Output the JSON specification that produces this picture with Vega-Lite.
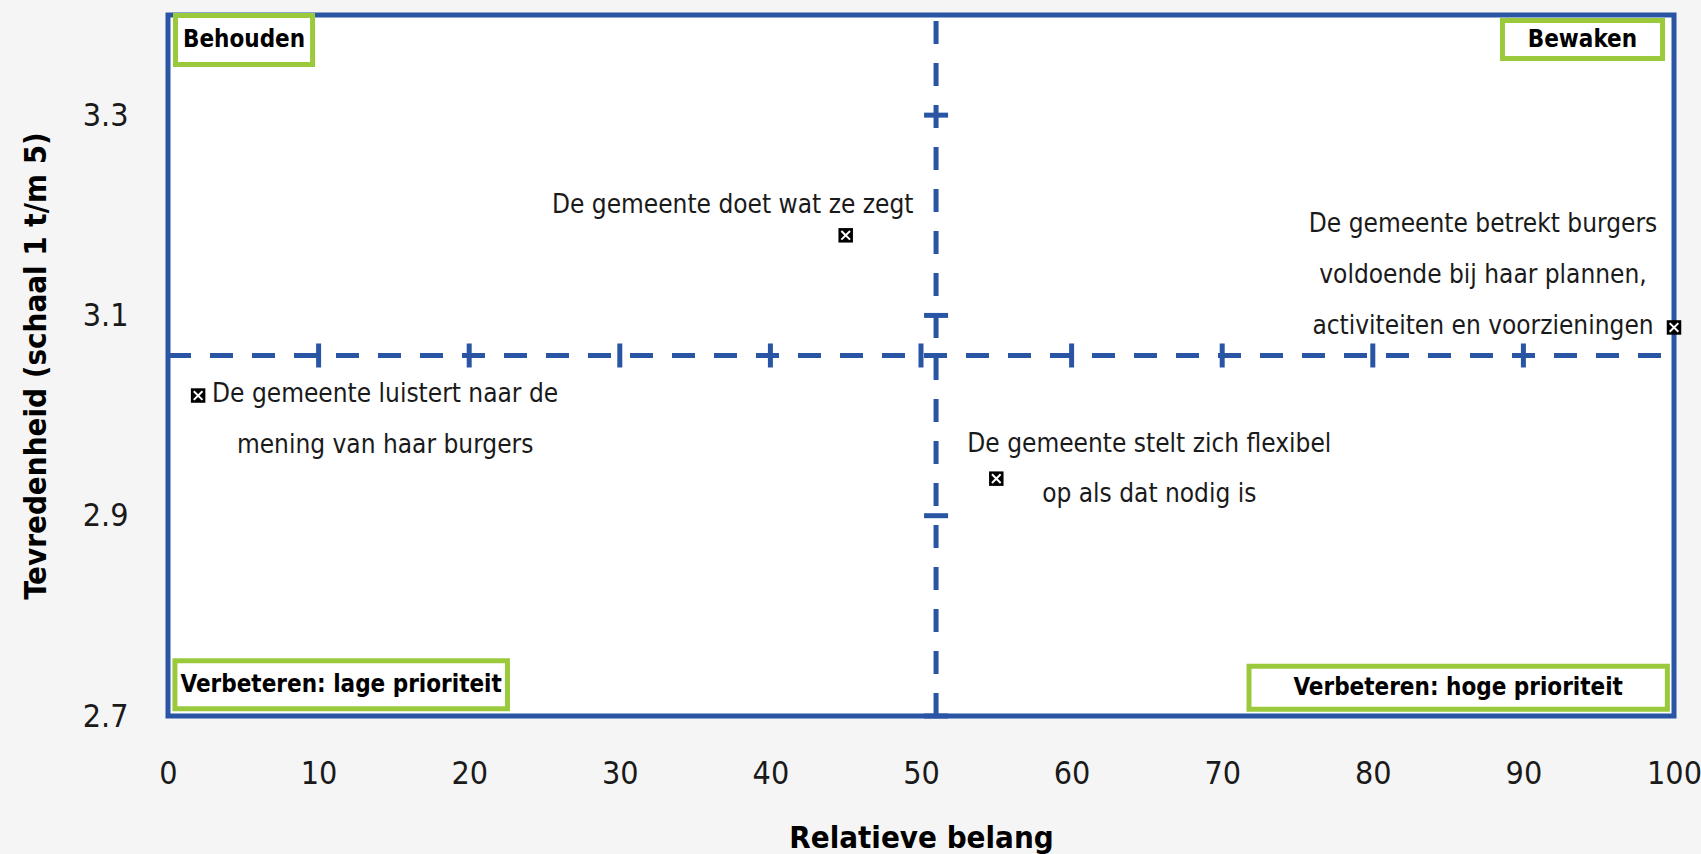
{
  "$schema": "https://vega.github.io/schema/vega-lite/v6.json",
  "width": 1506,
  "height": 701,
  "autosize": {"type": "none"},
  "padding": {"left": 168, "top": 15, "right": 27, "bottom": 138},
  "background": "#f5f5f5",
  "config": {
    "view": {"fill": "white", "stroke": "#2A54A4", "strokeWidth": 5},
    "font": "Liberation Sans Narrow, DejaVu Sans Condensed, Open Sans"
  },
  "datasets": {
    "points": [
      {"id": 1, "belang": 45, "tevredenheid": 3.18, "stelling": "De gemeente doet wat ze zegt"},
      {"id": 2, "belang": 100, "tevredenheid": 3.088, "stelling": "De gemeente betrekt burgers\nvoldoende bij haar plannen,\nactiviteiten en voorzieningen"},
      {"id": 3, "belang": 2, "tevredenheid": 3.02, "stelling": "De gemeente luistert naar de\nmening van haar burgers"},
      {"id": 4, "belang": 55, "tevredenheid": 2.937, "stelling": "De gemeente stelt zich flexibel\nop als dat nodig is"}
    ],
    "hline": [{"belang": 0, "belang2": 100, "tevredenheid": 3.06}],
    "vline": [{"belang": 51, "tevredenheid": 2.7, "tevredenheid2": 3.4}],
    "xticks": [
      {"belang": 10, "tevredenheid": 3.06}, {"belang": 20, "tevredenheid": 3.06},
      {"belang": 30, "tevredenheid": 3.06}, {"belang": 40, "tevredenheid": 3.06},
      {"belang": 50, "tevredenheid": 3.06}, {"belang": 60, "tevredenheid": 3.06},
      {"belang": 70, "tevredenheid": 3.06}, {"belang": 80, "tevredenheid": 3.06},
      {"belang": 90, "tevredenheid": 3.06}
    ],
    "yticks": [
      {"belang": 51, "tevredenheid": 2.7}, {"belang": 51, "tevredenheid": 2.9},
      {"belang": 51, "tevredenheid": 3.1}, {"belang": 51, "tevredenheid": 3.3}
    ],
    "boxes": [
      {"kwadrant": "Behouden", "belang": 0.5, "belang2": 9.6, "tevredenheid": 3.3995, "tevredenheid2": 3.3506},
      {"kwadrant": "Bewaken", "belang": 88.61, "belang2": 99.24, "tevredenheid": 3.3945, "tevredenheid2": 3.3566},
      {"kwadrant": "Verbeteren: lage prioriteit", "belang": 0.46, "belang2": 22.54, "tevredenheid": 2.7551, "tevredenheid2": 2.7072},
      {"kwadrant": "Verbeteren: hoge prioriteit", "belang": 71.78, "belang2": 99.56, "tevredenheid": 2.7496, "tevredenheid2": 2.7067}
    ],
    "boxlabels": [
      {"kwadrant": "Behouden", "belang": 5.05, "tevredenheid": 3.375},
      {"kwadrant": "Bewaken", "belang": 93.92, "tevredenheid": 3.3755},
      {"kwadrant": "Verbeteren: lage prioriteit", "belang": 11.5, "tevredenheid": 2.731},
      {"kwadrant": "Verbeteren: hoge prioriteit", "belang": 85.67, "tevredenheid": 2.728}
    ]
  },
  "encoding": {
    "x": {
      "field": "belang", "type": "quantitative", "title": "Relatieve belang",
      "scale": {"domain": [0, 100], "nice": false, "zero": false},
      "axis": {
        "values": [0, 10, 20, 30, 40, 50, 60, 70, 80, 90, 100],
        "domain": false, "ticks": false, "tickSize": 0, "grid": false,
        "labelFontSize": 32, "labelColor": "#1a1a1a", "labelPadding": 42,
        "labelFlush": false, "labelOverlap": false,
        "titleFontSize": 31, "titleFontWeight": "bold", "titleColor": "#000000", "titlePadding": 34
      }
    },
    "y": {
      "field": "tevredenheid", "type": "quantitative", "title": "Tevredenheid (schaal 1 t/m 5)",
      "scale": {"domain": [2.7, 3.4], "nice": false, "zero": false},
      "axis": {
        "values": [2.7, 2.9, 3.1, 3.3], "format": ".1f",
        "domain": false, "ticks": false, "tickSize": 0, "grid": false,
        "labelFontSize": 32, "labelColor": "#1a1a1a", "labelPadding": 40,
        "labelOverlap": false,
        "titleFontSize": 31, "titleFontWeight": "bold", "titleColor": "#000000", "titlePadding": 30
      }
    }
  },
  "layer": [
    {
      "data": {"name": "hline"},
      "mark": {"type": "rule", "color": "#2A54A4", "strokeWidth": 5, "strokeDash": [23, 19]},
      "encoding": {"x2": {"field": "belang2"}}
    },
    {
      "data": {"name": "vline"},
      "mark": {"type": "rule", "color": "#2A54A4", "strokeWidth": 5, "strokeDash": [23, 19]},
      "encoding": {"y2": {"field": "tevredenheid2"}}
    },
    {
      "data": {"name": "xticks"},
      "mark": {"type": "tick", "orient": "vertical", "color": "#2A54A4", "size": 24, "thickness": 5, "opacity": 1}
    },
    {
      "data": {"name": "yticks"},
      "mark": {"type": "tick", "orient": "horizontal", "color": "#2A54A4", "size": 24, "thickness": 5, "opacity": 1}
    },
    {
      "data": {"name": "boxes"},
      "mark": {"type": "rect", "fill": "white", "stroke": "#9ACA3C", "strokeWidth": 5},
      "encoding": {"x2": {"field": "belang2"}, "y2": {"field": "tevredenheid2"}}
    },
    {
      "data": {"name": "boxlabels"},
      "mark": {"type": "text", "align": "center", "baseline": "middle", "fontSize": 24, "fontWeight": "bold", "color": "#000000"},
      "encoding": {"text": {"field": "kwadrant"}}
    },
    {
      "data": {"name": "points"},
      "mark": {"type": "point", "shape": "square", "filled": true, "color": "#000000", "size": 210, "opacity": 1}
    },
    {
      "data": {"name": "points"},
      "mark": {"type": "point", "shape": "M-0.6,-0.6L0.6,0.6M-0.6,0.6L0.6,-0.6", "filled": false, "stroke": "#ffffff", "strokeWidth": 2, "size": 210, "opacity": 1}
    },
    {
      "data": {"name": "points"},
      "transform": [{"filter": "datum.id === 1"}],
      "mark": {"type": "text", "align": "center", "baseline": "middle", "dx": -113, "dy": -30, "fontSize": 26, "color": "#1a1a1a", "lineBreak": "\n", "lineHeight": 51},
      "encoding": {"text": {"field": "stelling"}}
    },
    {
      "data": {"name": "points"},
      "transform": [{"filter": "datum.id === 2"}],
      "mark": {"type": "text", "align": "center", "baseline": "middle", "dx": -191, "dy": -103, "fontSize": 26, "color": "#1a1a1a", "lineBreak": "\n", "lineHeight": 51},
      "encoding": {"text": {"field": "stelling"}}
    },
    {
      "data": {"name": "points"},
      "transform": [{"filter": "datum.id === 3"}],
      "mark": {"type": "text", "align": "center", "baseline": "middle", "dx": 187, "dy": -2, "fontSize": 26, "color": "#1a1a1a", "lineBreak": "\n", "lineHeight": 51},
      "encoding": {"text": {"field": "stelling"}}
    },
    {
      "data": {"name": "points"},
      "transform": [{"filter": "datum.id === 4"}],
      "mark": {"type": "text", "align": "center", "baseline": "middle", "dx": 153, "dy": -35, "fontSize": 26, "color": "#1a1a1a", "lineBreak": "\n", "lineHeight": 50},
      "encoding": {"text": {"field": "stelling"}}
    }
  ]
}
